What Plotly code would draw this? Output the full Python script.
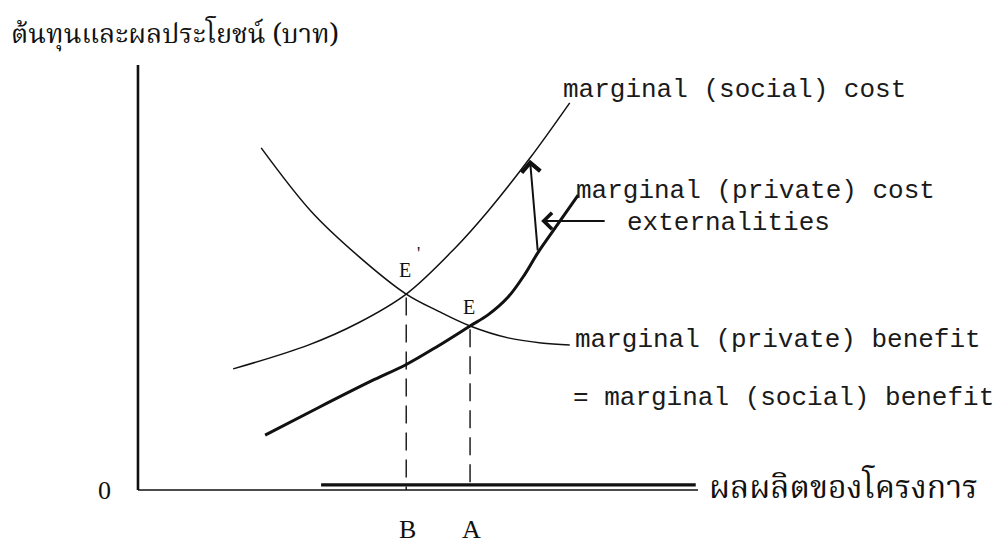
import plotly.graph_objects as go

# ---------------- data (diagram units: quantity q, price p) ----------------
q_msc = [1.70, 3.04, 3.93, 4.79, 5.66, 6.25, 7.00, 7.71]
p_msc = [2.85, 3.41, 3.93, 4.61, 5.69, 6.56, 7.81, 9.11]

q_mpc = [2.27, 3.21, 4.16, 4.80, 5.36, 5.93, 6.25, 6.61, 6.91, 7.14, 7.50, 7.86]
p_mpc = [1.29, 1.93, 2.56, 2.96, 3.39, 3.86, 4.12, 4.54, 5.08, 5.58, 6.26, 6.94]

q_mb = [2.20, 3.09, 3.93, 4.79, 5.36, 5.93, 6.61, 7.20, 7.71]
p_mb = [8.05, 6.56, 5.51, 4.61, 4.21, 3.86, 3.58, 3.46, 3.41]

eq_names = ["B", "A"]
eq_point_labels = ["E", "E"]
eq_q = [4.79, 5.93]
eq_p = [4.61, 3.86]

axis_q_max = 10.0
axis_p_max = 10.0

ext_from = (7.14, 5.60)   # on MPC
ext_to = (7.00, 7.77)     # on MSC

y_title = "ต้นทุนและผลประโยชน์ (บาท)"
x_title = "ผลผลิตของโครงการ"
lbl_msc = "marginal (social) cost"
lbl_mpc = "marginal (private) cost"
lbl_ext = "externalities"
lbl_mb1 = "marginal (private) benefit"
lbl_mb2 = "= marginal (social) benefit"

# ---------------- figure ----------------
MONO = "Liberation Mono, Courier New, monospace"
SERIF = "Liberation Serif, Times New Roman, serif"
THAI = "Noto Serif Thai, Noto Sans Thai, Loma, Garuda, Norasi, Noto Sans, sans-serif"
INK = "#111111"

fig = go.Figure()

# axes
fig.add_trace(go.Scatter(x=[0, 0], y=[axis_p_max, 0], mode="lines",
                         line=dict(color=INK, width=2.6), hoverinfo="skip", showlegend=False))
fig.add_trace(go.Scatter(x=[0, axis_q_max], y=[0, 0], mode="lines",
                         line=dict(color=INK, width=1.6), hoverinfo="skip", showlegend=False))
fig.add_trace(go.Scatter(x=[3.27, 9.96], y=[0.12, 0.12], mode="lines",
                         line=dict(color=INK, width=3.2), hoverinfo="skip", showlegend=False))

# dashed drop lines from equilibria
for q, p in zip(eq_q, eq_p):
    fig.add_trace(go.Scatter(x=[q, q], y=[p - 0.08, 0], mode="lines",
                             line=dict(color=INK, width=1.4, dash="18px,9px"),
                             hoverinfo="skip", showlegend=False))

# curves
fig.add_trace(go.Scatter(x=q_mb, y=p_mb, mode="lines", line=dict(color=INK, width=1.5, shape="spline", smoothing=1.0),
                         hoverinfo="skip", showlegend=False))
fig.add_trace(go.Scatter(x=q_msc, y=p_msc, mode="lines", line=dict(color=INK, width=1.5, shape="spline", smoothing=1.0),
                         hoverinfo="skip", showlegend=False))
fig.add_trace(go.Scatter(x=q_mpc, y=p_mpc, mode="lines", line=dict(color=INK, width=3.0, shape="spline", smoothing=1.0),
                         hoverinfo="skip", showlegend=False))

ann = []
# externality arrow (MPC -> MSC), open chevron head
ann.append(dict(x=ext_to[0], y=ext_to[1], ax=ext_from[0], ay=ext_from[1], xref="x", yref="y",
                axref="x", ayref="y", text="", showarrow=True, arrowhead=4, arrowsize=1.8,
                arrowwidth=2.0, arrowcolor=INK))
# externalities pointer
ann.append(dict(x=7.20, y=6.33, ax=8.36, ay=6.33, xref="x", yref="y", axref="x", ayref="y",
                text="", showarrow=True, arrowhead=4, arrowsize=1.6, arrowwidth=2.0, arrowcolor=INK))

def label(text, x, y, size=26.0, family=MONO, xanchor="left", color="#1a1a1a"):
    ann.append(dict(x=x, y=y, xref="x", yref="y", text=text, showarrow=False,
                    xanchor=xanchor, yanchor="middle", font=dict(family=family, size=size, color=color)))

label(lbl_msc, 7.55, 9.41)
label(lbl_mpc, 7.79, 7.04)
label(lbl_ext, 8.70, 6.28)
label(lbl_mb1, 7.77, 3.53)
label(lbl_mb2, 7.74, 2.17)

# equilibrium point labels
label(eq_point_labels[0], eq_q[0] - 0.02, eq_p[0] + 0.57, size=20, family=SERIF, xanchor="center", color=INK)
label("'", eq_q[0] + 0.22, eq_p[0] + 0.95, size=18, family=SERIF, xanchor="center", color=INK)
label(eq_point_labels[1], eq_q[1] - 0.02, eq_p[1] + 0.45, size=20, family=SERIF, xanchor="center", color=INK)
for name, q in zip(eq_names, eq_q):
    label(name, q + 0.03, -0.94, size=26, family=SERIF, xanchor="center", color=INK)
label("0", -0.59, -0.02, size=26, family=SERIF, xanchor="center", color=INK)

# Thai axis titles
label(y_title, -2.30, 10.70, size=27, family=THAI, color=INK)
label(x_title, 10.16, 0.02, size=32, family=THAI, color=INK)

fig.update_layout(
    width=1007, height=545, margin=dict(l=0, r=0, t=0, b=0),
    paper_bgcolor="white", plot_bgcolor="white",
    xaxis=dict(range=[-2.321, 15.661], visible=False, fixedrange=True),
    yaxis=dict(range=[-1.482, 11.341], visible=False, fixedrange=True),
    annotations=ann, showlegend=False,
)

fig.write_html("out.html")
